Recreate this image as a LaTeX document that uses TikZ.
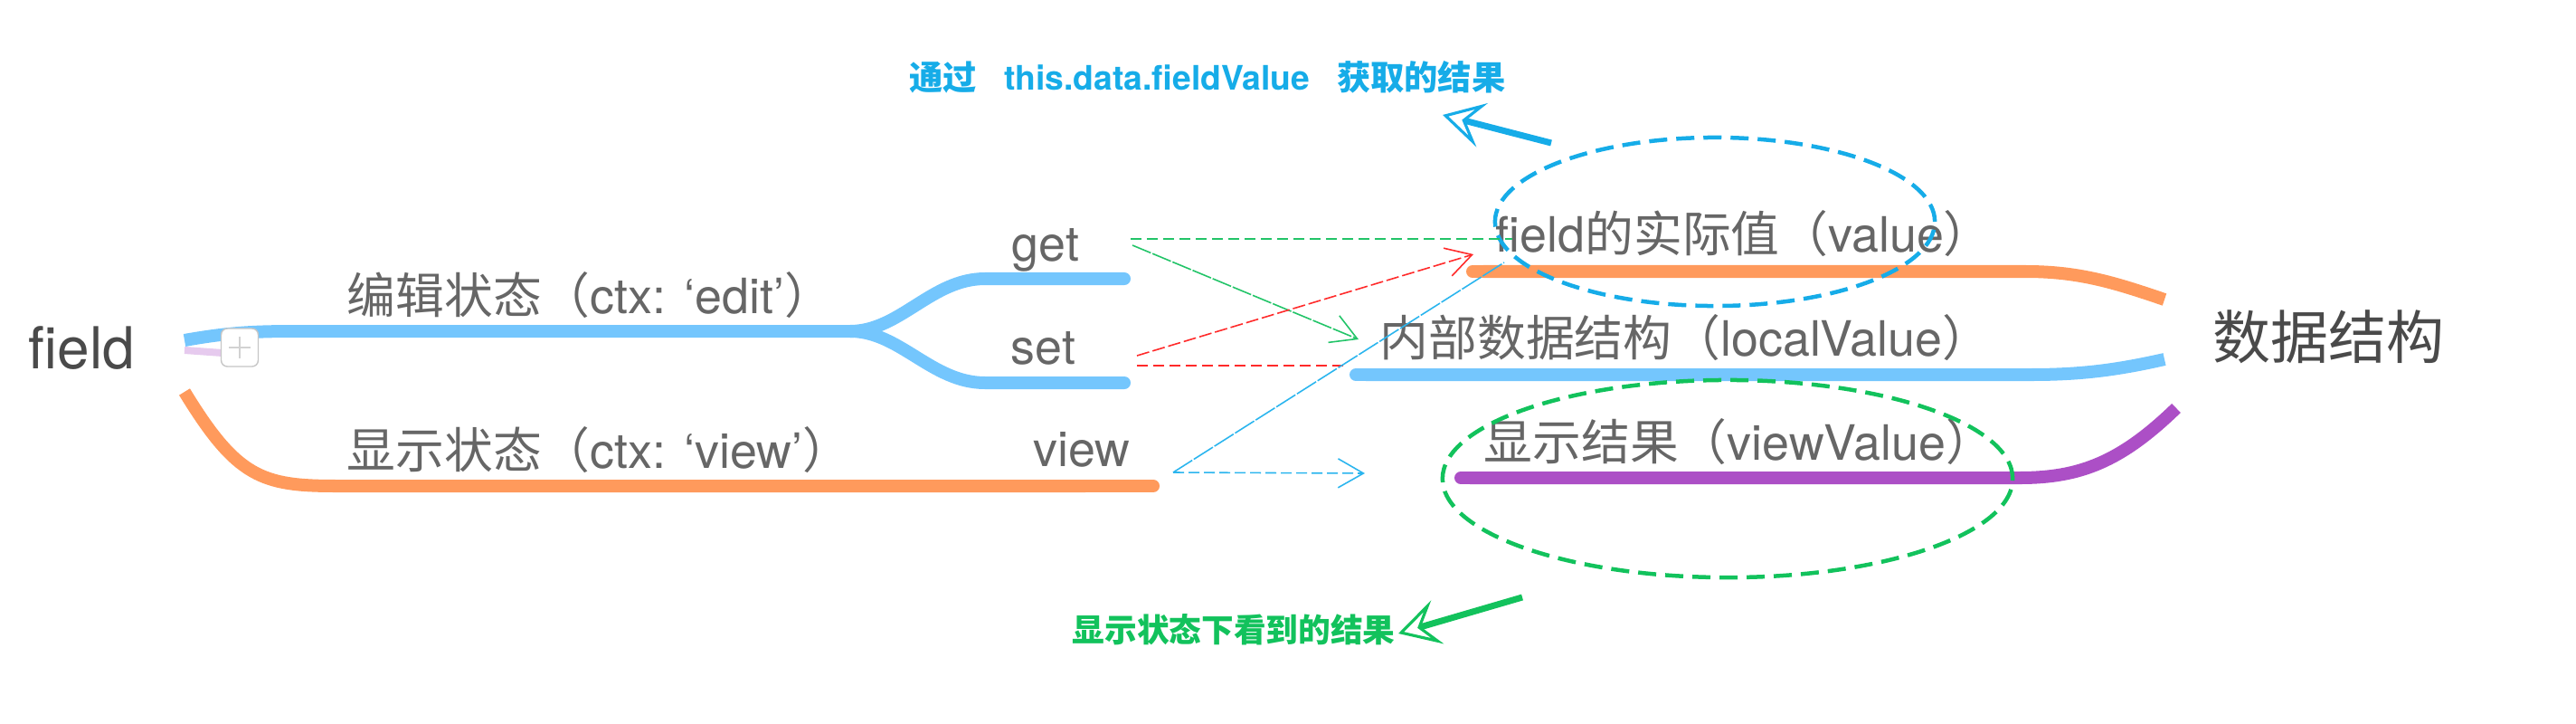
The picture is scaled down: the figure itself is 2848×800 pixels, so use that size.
\documentclass[tikz,border=0pt]{standalone}
\usepackage{fontspec}
\setmainfont{TeX Gyre Heros}
\newfontfamily\cjk{Noto Sans CJK SC}
\usetikzlibrary{arrows.meta,shapes.geometric}
\definecolor{mmblue}{HTML}{74C6FD}
\definecolor{mmorange}{HTML}{FF9A5C}
\definecolor{mmpurple}{HTML}{AC4FC6}
\definecolor{txtgray}{HTML}{666666}
\definecolor{txtdark}{HTML}{4A4A4A}
\definecolor{annblue}{HTML}{16ACE8}
\definecolor{anngreen}{HTML}{12C25C}
\definecolor{dred}{HTML}{FF2A2A}
\definecolor{dgreen}{HTML}{22C468}
\definecolor{dcyan}{HTML}{2BB5EE}
\newcommand{\zh}[1]{{\cjk #1}}
\begin{document}
\begin{tikzpicture}[x=0.01cm,y=-0.01cm,
  branch/.style={line width=0.14cm,line cap=round},
  big/.style={inner sep=0pt,anchor=base west,text=txtdark,font=\fontsize{18.2pt}{22pt}\selectfont},
  lbl/.style={inner sep=0pt,anchor=base west,text=txtgray,font=\fontsize{15.3pt}{18pt}\selectfont},
  note/.style={inner sep=0pt,anchor=base west,font=\fontsize{10.6pt}{13pt}\selectfont\bfseries},
  thin/.style={line width=0.45pt},
  barb/.style={-{Straight Barb[length=0.28cm,width=0.32cm,line width=0.45pt]}},
  bigtip/.style={line width=0.07cm,-{Stealth[open,length=0.45cm,width=0.5cm,inset=0.19cm,line width=0.9pt]}},
  ring/.style={line width=0.045cm,dash pattern=on 0.2cm off 0.1cm,ellipse,inner sep=0pt},
]
\useasboundingbox (0,0) rectangle (2848,800);

% ---------- texts ----------
\node[big] (field) at (31,407) {field};
\node[big] (ds) at (2446,396) {\zh{数据结构}};
\node[lbl] (edit) at (383,346) {\zh{编辑状态（}ctx: ‘edit’\zh{）}};
\node[lbl] (viewst) at (383,517) {\zh{显示状态（}ctx: ‘view’\zh{）}};
\node[lbl] (get) at (1118,288) {get};
\node[lbl] (set) at (1117,402) {set};
\node[lbl] (view) at (1142,515) {view};
\node[lbl] (fv) at (1653,278) {field\zh{的实际值（}value\zh{）}};
\node[lbl] (lv) at (1525,393) {\zh{内部数据结构（}localValue\zh{）}};
\node[lbl] (vv) at (1640,508) {\zh{显示结果（}viewValue\zh{）}};
\node[note,text=annblue] (n1) at (1005,100) {\zh{通过}\hspace{0.8em}this.data.fieldValue\hspace{0.8em}\zh{获取的结果}};
\node[note,text=anngreen,font=\fontsize{10.15pt}{12pt}\selectfont\bfseries] (n2) at (1185,709) {\zh{显示状态下看到的结果}};

% ---------- left mind-map branches ----------
\draw[line width=0.08cm,color=mmpurple!30] (204,387) -- (246,390);
\draw[branch,mmblue,line cap=butt] (204,376) .. controls (260,366) and (290,366) .. (340,366) -- (944,366);
\draw[branch,mmblue] (940,366) .. controls (995,366) and (1030,308) .. (1089,308) -- (1243,308);
\draw[branch,mmblue] (940,366) .. controls (995,366) and (1030,423) .. (1089,423) -- (1243,423);
\draw[branch,mmorange,line cap=butt] (204,433) .. controls (262,528) and (290,537) .. (372,537) -- (1200,537);
\draw[branch,mmorange] (1190,537) -- (1275,537);

% plus button
\node[draw=gray!45,fill=white,rounded corners=0.07cm,minimum width=0.41cm,minimum height=0.42cm,inner sep=0pt] (plus) at (265,384) {};
\draw[gray!35,line width=0.6pt] ([xshift=-0.12cm]plus.center) -- ([xshift=0.12cm]plus.center);
\draw[gray!35,line width=0.6pt] ([yshift=-0.12cm]plus.center) -- ([yshift=0.12cm]plus.center);

% ---------- right mind-map branches ----------
\draw[branch,mmorange,line cap=butt] (2393,331) .. controls (2340,313) and (2300,300) .. (2240,300) -- (1640,300);
\draw[branch,mmorange] (1640,300) -- (1628,300);
\draw[branch,mmblue,line cap=butt] (2393,397) .. controls (2340,409) and (2300,414) .. (2246,414) -- (1510,414);
\draw[branch,mmblue] (1510,414) -- (1499,414);
\draw[branch,mmpurple,line cap=butt] (2406,451) .. controls (2345,510) and (2300,528) .. (2233,528) -- (1625,528);
\draw[branch,mmpurple] (1625,528) -- (1615,528);

% ---------- ellipses ----------
\node[ring,draw=annblue,minimum width=4.86cm,minimum height=1.86cm] (ell1) at (1896,245) {};
\node[ring,draw=anngreen,minimum width=6.3cm,minimum height=2.18cm] (ell2) at (1910,529) {};

% ---------- connector end points ----------
\coordinate (getA) at (1250,264);
\coordinate (getB) at (1252,271);
\coordinate (fvA) at (1672,264);
\coordinate (lvA) at (1502,375);
\coordinate (setA) at (1257,393);
\coordinate (setB) at (1257,404);
\coordinate (fvB) at (1629,281);
\coordinate (lvB) at (1491,404);
\coordinate (viewA) at (1297,522);
\coordinate (fvC) at (1663,290);
\coordinate (vvA) at (1509,523);

\draw[thin,dgreen,dash pattern=on 0.12cm off 0.06cm] (getA) -- (fvA);
\draw[thin,dgreen,barb,dash pattern=on 0.22cm off 0.02cm] (getB) -- (lvA);
\draw[thin,dred,barb,dash pattern=on 0.14cm off 0.04cm] (setA) -- (fvB);
\draw[thin,dred,dash pattern=on 0.12cm off 0.06cm] (setB) -- (lvB);
\draw[thin,dcyan,dash pattern=on 0.25cm off 0.02cm] (viewA) -- (fvC);
\draw[thin,dcyan,barb,dash pattern=on 0.12cm off 0.05cm] (viewA) -- (vvA);

% ---------- annotation arrows ----------
\coordinate (ba) at (1715,158);
\coordinate (bb) at (1595,127);
\draw[bigtip,annblue] (ba) -- (bb);
\coordinate (ga) at (1683,660);
\coordinate (gb) at (1546,700);
\draw[bigtip,anngreen] (ga) -- (gb);
\end{tikzpicture}
\end{document}
